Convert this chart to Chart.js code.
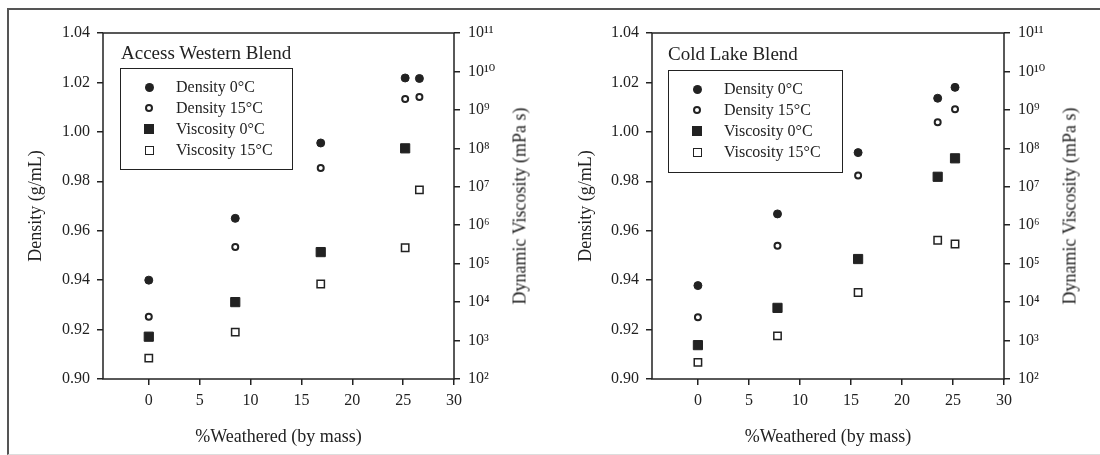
<!DOCTYPE html>
<html>
<head>
<meta charset="utf-8">
<script src="https://cdn.jsdelivr.net/npm/chart.js@4.4.1/dist/chart.umd.min.js"></script>
<style>
  body { margin: 0; background: #fff; width: 1100px; height: 455px; overflow: hidden; position: relative; font-family: "Liberation Serif", "DejaVu Serif", serif; color: #222; }
  .frame { position: absolute; left: 7px; top: 8px; width: 1093px; height: 444px; border-left: 2px solid #555; border-top: 2px solid #555; border-bottom: 1px solid #ddd; }
  canvas { position: absolute; top: 0; }
  .blend { position: absolute; font-size: 19px; line-height: 20px; white-space: nowrap; }
  .legend { position: absolute; border: 1.5px solid #222; background: #fff; }
  .row { position: absolute; font-size: 16px; line-height: 18px; white-space: nowrap; }
  .mk { position: absolute; box-sizing: border-box; }
  .ytitle2 { position: absolute; font-size: 18px; white-space: nowrap; transform: translate(-50%, -50%) rotate(-90deg); }
</style>
</head>
<body>
<div class="frame"></div>
<canvas id="awb" width="550" height="455" style="left:0"></canvas>
<canvas id="clb" width="550" height="455" style="left:550px"></canvas>

<script>
// Access Western Blend
const weatheredAWB = [0, 8.5, 16.9, 25.2, 26.6];
const densityAWB0 = [0.940, 0.965, 0.9955, 1.0218, 1.0216];
const densityAWB15 = [0.9252, 0.9534, 0.9854, 1.0133, 1.0141];
const viscWeatheredAWB0 = [0, 8.5, 16.9, 25.2];
const viscAWB0 = [1260, 1.0e4, 2.0e5, 1.0e8];
const viscAWB15 = [350, 1660, 2.95e4, 2.6e5, 8.3e6];

// Cold Lake Blend
const weatheredCLB = [0, 7.8, 15.7, 23.5, 25.2];
const densityCLB0 = [0.9378, 0.9668, 0.9916, 1.0136, 1.018];
const densityCLB15 = [0.925, 0.9539, 0.9823, 1.0039, 1.0091];
const viscCLB0 = [760, 7080, 1.32e5, 1.82e7, 5.5e7];
const viscCLB15 = [270, 1320, 1.78e4, 4.07e5, 3.24e5];

// axes
const weatheredTicks = [0, 5, 10, 15, 20, 25, 30];
const densityTicks = [0.90, 0.92, 0.94, 0.96, 0.98, 1.00, 1.02, 1.04];
const viscTicks = [1e2, 1e3, 1e4, 1e5, 1e6, 1e7, 1e8, 1e9, 1e10, 1e11];
const viscTickLabels = ['10²', '10³', '10⁴', '10⁵', '10⁶', '10⁷', '10⁸', '10⁹', '10¹⁰', '10¹¹'];
const seriesNames = ['Density 0°C', 'Density 15°C', 'Viscosity 0°C', 'Viscosity 15°C'];

const ink = '#222';
const serif = '"Liberation Serif", "DejaVu Serif", serif';

function pts(xs, ys) {
    return ys.map(function(y, i) { return { x: xs[i], y: y }; });
}

// box round the plot area
const framePlugin = {
    id: 'frame',
    beforeDatasetsDraw(chart) {
        const a = chart.chartArea;
        const ctx = chart.ctx;
        ctx.save();
        ctx.strokeStyle = ink;
        ctx.lineWidth = 1.5;
        ctx.strokeRect(a.left, a.top, a.right - a.left, a.bottom - a.top);
        ctx.restore();
    }
};

function makeChart(id, leftWidth, d0x, d0, d15x, d15, v0x, v0, v15x, v15) {
    const ctx = document.getElementById(id).getContext('2d');
    return new Chart(ctx, {
        type: 'scatter',
        data: {
            datasets: [
                { label: seriesNames[0], data: pts(d0x, d0), yAxisID: 'y', pointStyle: 'circle', pointRadius: 4, borderWidth: 1, backgroundColor: ink, borderColor: ink },
                { label: seriesNames[1], data: pts(d15x, d15), yAxisID: 'y', pointStyle: 'circle', pointRadius: 3, borderWidth: 2, backgroundColor: '#fff', borderColor: ink },
                { label: seriesNames[2], data: pts(v0x, v0), yAxisID: 'yv', pointStyle: 'rect', pointRadius: 6.5, borderWidth: 1, backgroundColor: ink, borderColor: ink },
                { label: seriesNames[3], data: pts(v15x, v15), yAxisID: 'yv', pointStyle: 'rect', pointRadius: 5.2, borderWidth: 1.5, backgroundColor: '#fff', borderColor: ink }
            ]
        },
        options: {
            responsive: false,
            animation: false,
            events: [],
            layout: { padding: { left: 0, right: 0, top: 33, bottom: 3 } },
            plugins: { legend: { display: false }, tooltip: { enabled: false } },
            scales: {
                x: {
                    type: 'linear',
                    min: -4.5,
                    max: 30,
                    afterBuildTicks: function(s) { s.ticks = weatheredTicks.map(function(v) { return { value: v }; }); },
                    afterFit: function(s) { s.height = 73; },
                    grid: { drawOnChartArea: false, drawTicks: true, tickLength: 6, color: ink, lineWidth: 1.5 },
                    border: { display: false },
                    ticks: { autoSkip: false, maxRotation: 0, padding: 6, color: ink, font: { family: serif, size: 16 } },
                    title: { display: true, text: '%Weathered (by mass)', color: ink, font: { family: serif, size: 18 }, padding: { top: 0, bottom: 4 } }
                },
                y: {
                    type: 'linear',
                    position: 'left',
                    min: 0.90,
                    max: 1.04,
                    afterBuildTicks: function(s) { s.ticks = densityTicks.map(function(v) { return { value: v }; }); },
                    afterFit: function(s) { s.width = leftWidth; },
                    grid: { drawOnChartArea: false, drawTicks: true, tickLength: 6, color: ink, lineWidth: 1.5 },
                    border: { display: false },
                    ticks: { autoSkip: false, padding: 7, color: ink, font: { family: serif, size: 16 },
                        callback: function(value) { return value.toFixed(2); } },
                    title: { display: true, text: 'Density (g/mL)', color: ink, font: { family: serif, size: 18 }, padding: { top: 25, bottom: 0 } }
                },
                yv: {
                    type: 'logarithmic',
                    position: 'right',
                    min: 1e2,
                    max: 1e11,
                    afterBuildTicks: function(s) { s.ticks = viscTicks.map(function(v) { return { value: v }; }); },
                    afterFit: function(s) { s.width = 96; },
                    grid: { drawOnChartArea: false, drawTicks: true, tickLength: 6, color: ink, lineWidth: 1.5 },
                    border: { display: false },
                    ticks: { autoSkip: false, padding: 8, color: ink, font: { family: serif, size: 16 },
                        callback: function(value, index) { return viscTickLabels[index]; } }
                }
            }
        },
        plugins: [framePlugin]
    });
}

makeChart('awb', 103, weatheredAWB, densityAWB0, weatheredAWB, densityAWB15, viscWeatheredAWB0, viscAWB0, weatheredAWB, viscAWB15);
makeChart('clb', 102, weatheredCLB, densityCLB0, weatheredCLB, densityCLB15, weatheredCLB, viscCLB0, weatheredCLB, viscCLB15);

// blend names, legends and right-hand axis titles as html on top of the canvases
const markerCss = [
    'width:9px;height:9px;border-radius:50%;background:#222;',
    'width:8px;height:8px;border-radius:50%;border:2px solid #222;background:#fff;',
    'width:10px;height:10px;background:#222;',
    'width:9px;height:9px;border:1.5px solid #222;background:#fff;'
];

function addPanelText(name, left, top, boxLeft, boxTop, boxW, boxH, axisX) {
    const t = document.createElement('div');
    t.className = 'blend';
    t.style.left = left + 'px';
    t.style.top = top + 'px';
    t.textContent = name;
    document.body.appendChild(t);

    const box = document.createElement('div');
    box.className = 'legend';
    box.style.left = boxLeft + 'px';
    box.style.top = boxTop + 'px';
    box.style.width = boxW + 'px';
    box.style.height = boxH + 'px';
    seriesNames.forEach(function(s, i) {
        const cy = 18 + i * 21;
        const m = document.createElement('div');
        m.className = 'mk';
        m.style.cssText = markerCss[i];
        const size = parseFloat(m.style.width);
        m.style.left = (28 - size / 2) + 'px';
        m.style.top = (cy - size / 2) + 'px';
        box.appendChild(m);
        const r = document.createElement('div');
        r.className = 'row';
        r.style.left = '55px';
        r.style.top = (cy - 9) + 'px';
        r.textContent = s;
        box.appendChild(r);
    });
    document.body.appendChild(box);

    const yt = document.createElement('div');
    yt.className = 'ytitle2';
    yt.style.left = axisX + 'px';
    yt.style.top = '206px';
    yt.textContent = 'Dynamic Viscosity (mPa s)';
    document.body.appendChild(yt);
}

addPanelText('Access Western Blend', 121, 43, 120, 68, 171, 100, 520);
addPanelText('Cold Lake Blend', 668, 44, 668, 70, 173, 101, 1070);
</script>
</body>
</html>
